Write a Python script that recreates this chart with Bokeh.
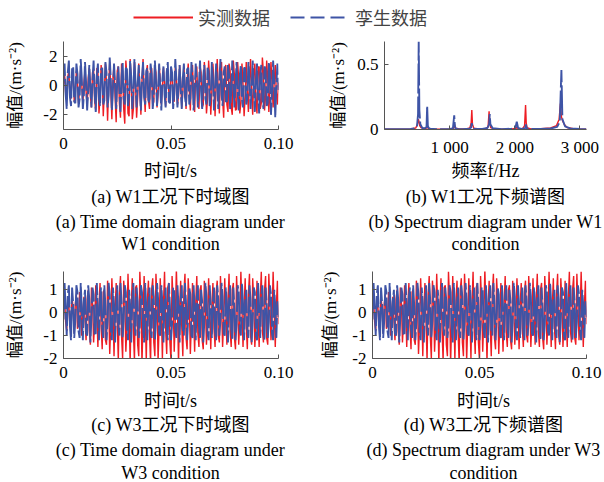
import numpy as np
from bokeh.plotting import figure
from bokeh.models import Range1d, FixedTicker, Legend, LegendItem
from bokeh.layouts import column, row
from bokeh.core.properties import value
from bokeh.embed import file_html
from bokeh.resources import INLINE

# ---------------- data ----------------
sample_dt = 0.0005  # s

w1_twin = [
    0.3, 1.5, -0.6, -1.6, 0.9, 1.7, -0.8, -1.4, 1.2, 1.3,
    -1.1, -1.2, 1.5, 0.8, -1.5, -0.9, 1.8, 0.5, -1.6, -0.6,
    1.6, 0.2, -1.7, -0.3, 1.4, -0.1, -1.5, 0.4, 1.7, -0.5,
    -1.8, 0.7, 1.5, -0.9, -1.4, 1.1, 1.2, -1.3, -1.0, 1.6,
    0.9, -1.5, -0.7, 1.9, 0.4, -1.7, -0.3, 1.5, 0.1, -1.6,
    0.2, 1.3, -0.4, -1.8, 0.6, 1.6, -0.9, -1.3, 1.2, 1.1,
    -1.4, -0.8, 1.7, 0.6, -1.6, -0.4, 1.8, 0.2, -1.5, 0.1,
    1.4, -0.3, -1.7, 0.5, 1.6, -0.8, -1.3, 1.0, 1.2, -1.2,
    -0.9, 1.5, 0.8, -1.6, -0.5, 1.7, 0.3, -1.4, -0.2, 1.5,
    -0.1, -1.7, 0.4, 1.3, -0.6, -1.5, 0.9, 1.6, -1.1, -1.2,
    1.3, 0.9, -1.6, -0.6, 1.8, 0.4, -1.5, -0.1, 1.4, -0.2,
    -1.6, 0.5, 1.5, -0.8, -1.4, 1.1, 1.2, -1.3, -0.9, 1.6,
    0.7, -1.7, -0.4, 1.5, 0.2, -1.5, 0.1, 1.7, -0.4, -1.6,
    0.6, 1.4, -0.9, -1.3, 1.2, 1.0, -1.4, -0.7, 1.6, 0.5,
    -1.7, -0.2, 1.5, -0.1, -1.6, 0.4, 1.8, -0.6, -1.4, 0.9,
    1.3, -1.1, -1.1, 1.4, 0.8, -1.6, -0.5, 1.7, 0.2, -1.5,
    0.1, 1.6, -0.4, -1.7, 0.7, 1.4, -0.9, -1.5, 1.2, 1.2,
    -1.3, -0.9, 1.6, 0.6, -1.6, -0.3, 1.7, 0.0, -1.8, 0.3,
    1.5, -0.6, -1.9, 0.8, 1.4, -1.0, -1.6, 1.3, 1.1, -1.4,
    -1.2, 1.6, 0.7, -2.0, -0.4, 1.7, 0.2, -2.2, 0.1, 1.5,
    -0.3,
]

w1_measured = [
    0.1, 0.8, -0.5, -1.0, 0.6, 1.0, -0.7, -0.9, 0.9, 0.6,
    -1.1, -0.5, 1.0, 0.3, -1.2, -0.2, 1.1, 0.1, -1.3, 0.2,
    1.0, -0.4, -1.4, 0.5, 1.2, -0.7, -1.5, 0.9, 1.1, -1.1,
    -1.7, 1.2, 1.0, -1.9, -0.8, 1.4, 0.6, -2.1, -0.4, 1.5,
    0.2, -2.4, -0.1, 1.6, -0.3, -2.3, 0.5, 1.4, -0.8, -2.5,
    1.0, 1.3, -1.2, -2.2, 1.5, 1.0, -1.6, -2.6, 1.7, 0.7,
    -1.9, -2.1, 1.8, 0.4, -2.3, -1.6, 1.6, 0.1, -2.2, -0.8,
    1.5, -0.2, -2.0, 0.3, 1.8, -0.5, -1.8, 0.8, 1.4, -1.0,
    -1.6, 1.1, 1.2, -1.4, -1.1, 1.3, 0.9, -1.5, -0.6, 1.4,
    0.4, -1.3, -0.2, 1.2, 0.1, -1.4, 0.3, 1.1, -0.5, -1.2,
    0.8, 0.9, -1.0, -1.1, 1.2, 0.6, -1.3, -0.7, 1.4, 0.3,
    -1.5, -0.4, 1.3, 0.1, -1.6, 0.2, 1.5, -0.3, -1.7, 0.6,
    1.4, -0.8, -1.8, 1.0, 1.3, -1.2, -1.6, 1.3, 0.9, -1.5,
    -1.3, 1.6, 0.6, -1.9, -0.9, 1.7, 0.3, -2.0, -0.4, 1.5,
    0.0, -2.1, 0.2, 1.8, -0.5, -1.9, 0.7, 1.6, -0.9, -2.2,
    1.1, 1.4, -1.3, -1.8, 1.5, 1.0, -1.5, -2.0, 1.7, 0.7,
    -1.7, -1.6, 1.6, 0.4, -1.9, -1.2, 1.5, 0.1, -2.1, -0.7,
    1.6, -0.2, -1.8, 0.3, 1.8, -0.5, -2.0, 0.8, 1.5, -1.0,
    -1.9, 1.2, 1.3, -1.6, -1.2, 1.9, 0.9, -1.7, -0.7, 1.7,
    0.4, -1.8, -0.3, 1.6, 0.1, -1.5, 0.3, 1.4, -0.5, -1.3,
    0.2,
]

w3_twin = [
    -0.3, 1.3, 0.2, -1.0, 0.8, 1.2, -0.6, -1.2, 1.1, 0.4,
    -1.1, -0.3, 1.2, 0.9, -0.8, -1.1, 1.3, 0.2, -1.2, 0.5,
    1.0, -0.9, -1.0, 1.2, 0.6, -1.3, -0.2, 1.1, 0.8, -1.0,
    -0.9, 1.3, 0.1, -1.2, 0.7, 1.1, -0.7, -1.1, 1.2, 0.3,
    -1.2, -0.4, 1.3, 0.8, -0.9, -1.2, 1.1, 0.4, -1.3, 0.2,
    1.2, -0.6, -1.0, 1.3, 0.5, -1.1, -0.3, 1.2, 0.9, -0.8,
    -1.2, 1.0, 0.3, -1.3, 0.6, 1.3, -0.5, -1.0, 1.1, 0.5,
    -1.1, -0.6, 1.2, 0.9, -0.7, -1.3, 1.3, 0.2, -1.2, 0.4,
    1.1, -0.8, -1.1, 1.2, 0.7, -1.2, -0.4, 1.3, 0.6, -0.9,
    -1.0, 1.2, 0.4, -1.3, 0.5, 1.1, -0.6, -1.2, 1.3, 0.3,
    -1.2, -0.5, 1.1, 1.0, -0.8, -1.1, 1.2, 0.3, -1.3, 0.6,
    1.2, -0.7, -1.0, 1.3, 0.4, -1.2, -0.2, 1.1, 0.8, -1.0,
    -1.1, 1.2, 0.2, -1.2, 0.7, 1.2, -0.6, -1.1, 1.0, 0.5,
    -1.3, -0.4, 1.3, 0.7, -0.9, -1.2, 1.2, 0.3, -1.1, 0.4,
    1.1, -0.8, -1.2, 1.2, 0.6, -1.0, -0.3, 1.3, 0.7, -0.9,
    -1.0, 1.1, 0.4, -1.3, 0.5, 1.2, -0.7, -1.2, 1.1, 0.2,
    -1.2, -0.5, 1.2, 0.9, -0.8, -1.0, 1.3, 0.4, -1.2, 0.5,
    1.0, -0.7, -1.1, 1.2, 0.6, -1.3, -0.3, 1.1, 0.9, -1.0,
    -1.2, 1.3, 0.2, -1.1, 0.7, 1.2, -0.5, -1.2, 1.1, 0.4,
    -1.1, -0.4, 1.2, 0.8, -0.9, -1.2, 1.0, 0.3, -1.1, 0.5,
    -0.2,
]

w3_measured = [
    0.2, 0.6, -0.4, -0.8, 0.5, 0.3, -0.6, -0.2, 0.7, 0.1,
    -0.9, 0.4, 0.8, -0.7, -0.5, 0.9, 0.2, -1.0, 0.1, 0.7,
    -0.3, -1.2, 0.6, 1.0, -0.8, -1.4, 1.1, 0.5, -1.3, -0.4,
    1.2, 0.1, -1.5, 0.3, 1.3, -0.6, -1.6, 0.9, 1.0, -1.2,
    -1.4, 1.4, 0.6, -1.8, -0.5, 1.5, 0.2, -1.9, 0.1, 1.3,
    -0.4, -2.1, 0.8, 1.6, -1.0, -2.0, 1.4, 0.7, -1.7, -0.6,
    1.7, 0.2, -2.2, 0.3, 1.5, -0.8, -2.1, 1.1, 1.2, -1.4,
    -1.9, 1.8, 0.6, -2.2, -0.4, 1.6, 0.1, -2.1, 0.5, 1.4,
    -0.9, -2.2, 1.0, 1.5, -1.3, -1.9, 1.7, 0.6, -2.1, -0.5,
    1.5, 0.0, -2.0, 0.4, 1.8, -0.7, -1.8, 1.1, 1.3, -1.3,
    -2.1, 1.6, 0.5, -1.7, -0.3, 1.9, 0.2, -2.2, 0.2, 1.4,
    -0.6, -1.9, 0.9, 1.7, -1.1, -1.6, 1.5, 0.5, -1.8, -0.4,
    1.3, -0.1, -1.7, 0.4, 1.6, -0.9, -1.5, 1.0, 1.2, -1.2,
    -1.6, 1.4, 0.3, -1.4, -0.2, 1.5, 0.1, -1.6, 0.3, 1.3,
    -0.7, -1.5, 0.9, 1.4, -1.0, -1.3, 1.6, 0.4, -1.5, -0.3,
    1.5, 0.0, -1.4, 0.5, 1.7, -0.8, -1.5, 1.0, 1.3, -1.1,
    -1.6, 1.6, 0.4, -1.4, -0.3, 1.8, 0.2, -1.5, 0.2, 1.5,
    -0.6, -1.6, 0.8, 1.7, -1.0, -1.4, 1.5, 0.5, -1.5, -0.4,
    1.4, -0.2, -1.5, 0.6, 1.8, -0.8, -1.3, 1.0, 1.6, -1.1,
    -1.4, 1.7, 0.4, -1.2, -0.2, 1.8, 0.1, -1.5, 0.3, 1.4,
    -0.5,
]

spec_twin_freq = [0, 100, 200, 300, 400, 450, 480, 500, 515, 525, 535, 550, 580,
                  620, 645, 655, 665, 675, 700, 800, 900, 1000, 1050, 1070, 1080,
                  1090, 1120, 1200, 1300, 1330, 1340, 1350, 1380, 1500, 1580, 1605,
                  1615, 1625, 1660, 1800, 1950, 2010, 2030, 2050, 2100, 2160, 2170,
                  2180, 2250, 2400, 2550, 2650, 2690, 2705, 2715, 2730, 2770, 2850,
                  3000, 3100]
spec_twin_amp = [0.002, 0.002, 0.002, 0.003, 0.005, 0.008, 0.015, 0.03, 0.12, 0.68,
                 0.15, 0.04, 0.012, 0.01, 0.02, 0.18, 0.03, 0.012, 0.006, 0.003,
                 0.003, 0.004, 0.008, 0.11, 0.03, 0.008, 0.004, 0.003, 0.006, 0.015,
                 0.05, 0.012, 0.005, 0.004, 0.012, 0.04, 0.12, 0.04, 0.01, 0.003,
                 0.006, 0.015, 0.06, 0.012, 0.005, 0.01, 0.04, 0.01, 0.004, 0.004,
                 0.008, 0.02, 0.06, 0.30, 0.46, 0.08, 0.025, 0.008, 0.004, 0.003]

spec_meas_freq = [0, 100, 200, 300, 400, 480, 505, 520, 530, 540, 560, 600, 640,
                  655, 665, 680, 750, 900, 1000, 1060, 1075, 1090, 1150, 1250, 1310,
                  1330, 1340, 1350, 1370, 1450, 1550, 1590, 1605, 1615, 1630, 1670,
                  1800, 1950, 2020, 2035, 2050, 2120, 2150, 2165, 2175, 2190, 2250,
                  2400, 2550, 2640, 2680, 2700, 2715, 2730, 2760, 2800, 2900, 3000,
                  3100]
spec_meas_amp = [0.002, 0.002, 0.003, 0.003, 0.005, 0.012, 0.04, 0.08, 0.06, 0.03,
                 0.015, 0.008, 0.01, 0.03, 0.012, 0.006, 0.004, 0.003, 0.004, 0.01,
                 0.04, 0.01, 0.004, 0.004, 0.012, 0.05, 0.15, 0.04, 0.01, 0.004,
                 0.005, 0.02, 0.14, 0.05, 0.015, 0.006, 0.003, 0.004, 0.008, 0.02,
                 0.006, 0.006, 0.03, 0.19, 0.05, 0.012, 0.005, 0.006, 0.012, 0.03,
                 0.08, 0.20, 0.10, 0.07, 0.04, 0.015, 0.006, 0.004, 0.003]

legend_labels = ["实测数据", "孪生数据"]
time_ticks = [0, 0.05, 0.10]
time_tick_labels = ["0", "0.05", "0.10"]
freq_ticks = [1000, 2000, 3000]
freq_tick_labels = ["1 000", "2 000", "3 000"]

xlabel_time = "时间t/s"
xlabel_freq = "频率f/Hz"
captions_a = ["(a) W1工况下时域图", "(a) Time domain diagram under", "W1 condition"]
captions_b = ["(b) W1工况下频谱图", "(b) Spectrum diagram under W1", "condition"]
captions_c = ["(c) W3工况下时域图", "(c) Time domain diagram under", "W3 condition"]
captions_d = ["(d) W3工况下频谱图", "(d) Spectrum diagram under W3", "condition"]

# ---------------- style ----------------
RED = "#ee1d23"
BLUE = "#3e54a6"
FONT = "Liberation Serif, Noto Sans CJK SC"
FS = "17px"
YLABEL = "幅值/(m·s⁻²)"
DASH = "30 3"

t_w1 = np.arange(len(w1_twin)) * sample_dt
t_w3 = np.arange(len(w3_twin)) * sample_dt


def make_panel(xr, yr, xt, xtl, yt, ytl, fw, fh, left, right, top, bottom, ylab_standoff):
    p = figure(output_backend="svg", toolbar_location=None,
               frame_width=fw, frame_height=fh,
               x_range=Range1d(*xr), y_range=Range1d(*yr))
    p.min_border_left = left
    p.min_border_right = right
    p.min_border_top = top
    p.min_border_bottom = bottom
    p.outline_line_color = None
    p.grid.visible = False
    for ax in (p.xaxis[0], p.yaxis[0]):
        ax.axis_line_color = "#555555"
        ax.axis_line_width = 1
        ax.major_tick_line_color = "#555555"
        ax.major_tick_in = 4
        ax.major_tick_out = 0
        ax.minor_tick_line_color = None
        ax.major_label_text_font = FONT
        ax.major_label_text_font_size = FS
        ax.major_label_text_color = "black"
        ax.axis_label_text_font = FONT
        ax.axis_label_text_font_size = FS
        ax.axis_label_text_font_style = "normal"
        ax.axis_label_text_color = "black"
    p.xaxis[0].ticker = FixedTicker(ticks=xt)
    p.xaxis[0].major_label_overrides = dict(zip(xt, xtl))
    p.yaxis[0].ticker = FixedTicker(ticks=yt)
    p.yaxis[0].major_label_overrides = dict(zip(yt, ytl))
    p.yaxis[0].axis_label = YLABEL
    p.xaxis[0].major_label_standoff = 8
    p.yaxis[0].major_label_standoff = 6
    p.yaxis[0].axis_label_standoff = ylab_standoff
    return p


def make_captions(xlabel, caps, centre_x, centre_ys, height):
    lines = [xlabel] + caps
    c = figure(output_backend="svg", toolbar_location=None, width=302, height=height,
               x_range=Range1d(0, 302), y_range=Range1d(height, 0), min_border=0)
    c.axis.visible = False
    c.grid.visible = False
    c.outline_line_color = None
    c.text(x=[centre_x] * len(lines), y=centre_ys, text=lines,
           text_align="center", text_baseline="middle",
           text_font=value(FONT), text_font_size="18px", text_color="black")
    return c


fa = make_panel((0, 0.10), (-3, 3), time_ticks, time_tick_labels, [-2, 0, 2], ["-2", "0", "2"],
                215, 88, 63, 24, 11, 32, 15)
fa.line(t_w1, w1_measured, color=RED, line_width=1.4)
fa.line(t_w1, w1_twin, color=BLUE, line_width=1.9, line_dash=DASH)

fb = make_panel((0, 3100), (0, 0.68), freq_ticks, freq_tick_labels, [0, 0.5], ["0", "0.5"],
                202, 88, 82, 18, 11, 32, 6)
fb.line(spec_meas_freq, spec_meas_amp, color=RED, line_width=1.4)
fb.line(spec_twin_freq, spec_twin_amp, color=BLUE, line_width=1.9, line_dash=DASH)

fc = make_panel((0, 0.10), (-2, 1.8), time_ticks, time_tick_labels, [-2, -1, 0, 1], ["-2", "-1", "0", "1"],
                215, 87, 63, 24, 18, 32, 15)
fc.line(t_w3, w3_measured, color=RED, line_width=1.4)
fc.line(t_w3, w3_twin, color=BLUE, line_width=1.9, line_dash=DASH)

fd = make_panel((0, 0.10), (-2, 1.8), time_ticks, time_tick_labels, [-2, -1, 0, 1], ["-2", "-1", "0", "1"],
                214, 87, 70, 18, 18, 32, 9)
fd.line(t_w3, w3_measured, color=RED, line_width=1.4)
fd.line(t_w3, w3_twin, color=BLUE, line_width=1.9, line_dash=DASH)

ca = make_captions(xlabel_time, captions_a, 170, [9, 35, 60, 82], 92)
cb = make_captions(xlabel_freq, captions_b, 183, [9, 35, 60, 82], 92)
cc = make_captions(xlabel_time, captions_c, 170, [10, 34, 59, 82], 92)
cd = make_captions(xlabel_time, captions_d, 181, [10, 34, 59, 82], 92)

# legend strip (renderers hold points outside the visible range)
lg = figure(output_backend="svg", toolbar_location=None, width=604, height=30,
            x_range=Range1d(0, 1), y_range=Range1d(0, 1), min_border=0)
lg.axis.visible = False
lg.grid.visible = False
lg.outline_line_color = None
r_meas = lg.line([-2, -1], [-2, -2], color=RED, line_width=2)
r_twin = lg.line([-2, -1], [-2, -2], color=BLUE, line_width=2, line_dash="14 6")
legend = Legend(items=[LegendItem(label=legend_labels[0], renderers=[r_meas]),
                       LegendItem(label=legend_labels[1], renderers=[r_twin])],
                orientation="horizontal", location=(133, 0), glyph_width=60, glyph_height=18,
                label_text_font=FONT, label_text_font_size="18px", label_standoff=5,
                spacing=20, padding=4, margin=0, border_line_color=None,
                background_fill_alpha=0)
lg.add_layout(legend)

layout = column(lg, row(fa, fb), row(ca, cb), row(fc, fd), row(cc, cd))
open("out.html", "w").write(file_html(layout, INLINE))
